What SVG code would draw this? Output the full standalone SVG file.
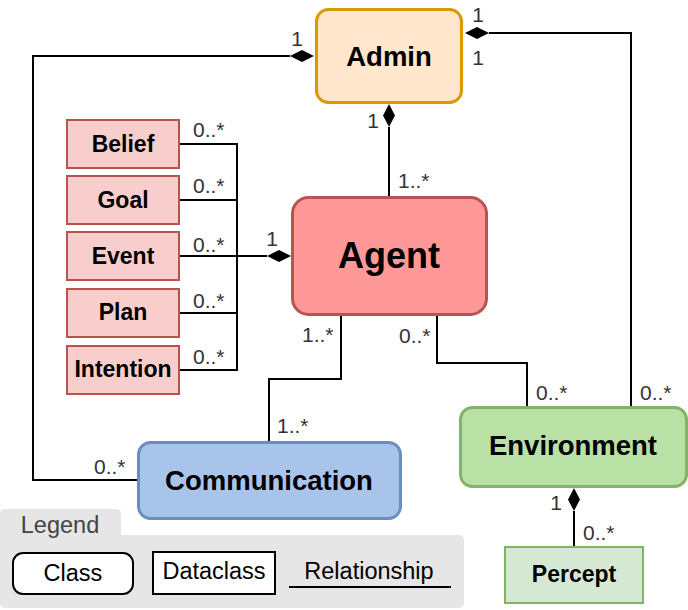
<svg xmlns="http://www.w3.org/2000/svg" width="688" height="610" viewBox="0 0 688 610">
<style>
text{font-family:"Liberation Sans",Arial,sans-serif}
.t{font-weight:bold;fill:#000;text-anchor:middle}
.m{font-size:21px;fill:#333}
.lg{font-size:23.5px;fill:#000;text-anchor:middle}
.c{fill:none;stroke:#000;stroke-width:2}
.d{fill:#000;stroke:none}
.data{fill:#f8cecc;stroke:#b85450;stroke-width:2}
</style>
<g id="legend">
<path d="M5,509 H116 Q121,509 121,514 V535 H459 Q464,535 464,540 V603 Q464,608 459,608 H5 Q0,608 0,603 V514 Q0,509 5,509 Z" fill="#e6e6e6"/>
<text x="60" y="533" style="font-size:23.5px;fill:#444;text-anchor:middle">Legend</text>
<rect x="13" y="553" width="120" height="41" rx="10" fill="#fff" stroke="#000" stroke-width="2"/>
<text x="73" y="581" class="lg">Class</text>
<rect x="153" y="552" width="122" height="42" fill="#fff" stroke="#000" stroke-width="2"/>
<text x="214" y="579" class="lg">Dataclass</text>
<text x="369" y="579" class="lg">Relationship</text>
<line x1="289" y1="587" x2="451" y2="587" stroke="#000" stroke-width="2"/>
</g>
<g id="connectors">
<polyline class="c" points="290,56 33,56 33,480 138,480"/>
<polygon class="d" points="314,56 302,50 290,56 302,62"/>
<polyline class="c" points="489,33 631,33 631,407"/>
<polygon class="d" points="465,33 477,27 489,33 477,39"/>
<line class="c" x1="389" y1="127" x2="389" y2="196"/>
<polygon class="d" points="389,104 395,115.5 389,127 383,115.5"/>
<polyline class="c" points="179,144 237,144 237,370 179,370"/>
<line class="c" x1="179" y1="200" x2="237" y2="200"/>
<line class="c" x1="179" y1="313" x2="237" y2="313"/>
<line class="c" x1="179" y1="256" x2="267" y2="256"/>
<polygon class="d" points="291,256 279,250 267,256 279,262"/>
<polyline class="c" points="341,315 341,379 269,379 269,442"/>
<polyline class="c" points="437,315 437,363 527,363 527,407"/>
<line class="c" x1="574" y1="511" x2="574" y2="547"/>
<polygon class="d" points="574,488 580,499.5 574,511 568,499.5"/>
</g>
<g id="labels">
<text x="297" y="46" class="m" text-anchor="middle">1</text>
<text x="478" y="22" class="m" text-anchor="middle">1</text>
<text x="478" y="65" class="m" text-anchor="middle">1</text>
<text x="373" y="128" class="m" text-anchor="middle">1</text>
<text x="398" y="188" class="m">1..*</text>
<text x="193" y="137" class="m">0..*</text>
<text x="193" y="193" class="m">0..*</text>
<text x="193" y="252" class="m">0..*</text>
<text x="193" y="308" class="m">0..*</text>
<text x="193" y="364" class="m">0..*</text>
<text x="272" y="246" class="m" text-anchor="middle">1</text>
<text x="302" y="342" class="m">1..*</text>
<text x="277" y="433" class="m">1..*</text>
<text x="94" y="474" class="m">0..*</text>
<text x="399" y="343" class="m">0..*</text>
<text x="536" y="400" class="m">0..*</text>
<text x="640" y="400" class="m">0..*</text>
<text x="556" y="510" class="m" text-anchor="middle">1</text>
<text x="583" y="540" class="m">0..*</text>
</g>
<g id="admin">
<rect x="316.5" y="9.5" width="145" height="93" rx="12" fill="#ffe6cc" stroke="#d79b00" stroke-width="3"/>
<text x="389" y="66" class="t" font-size="27.5">Admin</text>
</g>
<g id="agent">
<rect x="292.5" y="197.5" width="194" height="117" rx="16" fill="#ff9999" stroke="#b85450" stroke-width="3"/>
<text x="389" y="268" class="t" font-size="36">Agent</text>
</g>
<g id="belief"><rect class="data" x="67" y="120" width="112" height="48"/><text x="123" y="152" class="t" font-size="23">Belief</text></g>
<g id="goal"><rect class="data" x="67" y="176" width="112" height="48"/><text x="123" y="208" class="t" font-size="23">Goal</text></g>
<g id="event"><rect class="data" x="67" y="232" width="112" height="48"/><text x="123" y="264" class="t" font-size="23">Event</text></g>
<g id="plan"><rect class="data" x="67" y="289" width="112" height="48"/><text x="123" y="320" class="t" font-size="23">Plan</text></g>
<g id="intention"><rect class="data" x="67" y="346" width="112" height="48"/><text x="123" y="377" class="t" font-size="23">Intention</text></g>
<g id="communication">
<rect x="138.5" y="442.5" width="262" height="76" rx="12" fill="#a9c4eb" stroke="#6c8ebf" stroke-width="3"/>
<text x="269" y="490" class="t" font-size="27.5">Communication</text>
</g>
<g id="environment">
<rect x="460.5" y="407.5" width="226" height="79" rx="12" fill="#b9e0a5" stroke="#82b366" stroke-width="3"/>
<text x="573" y="455" class="t" font-size="27.5">Environment</text>
</g>
<g id="percept">
<rect x="505" y="547" width="138" height="56" fill="#d5e8d4" stroke="#82b366" stroke-width="2"/>
<text x="574" y="582" class="t" font-size="23">Percept</text>
</g>
</svg>
